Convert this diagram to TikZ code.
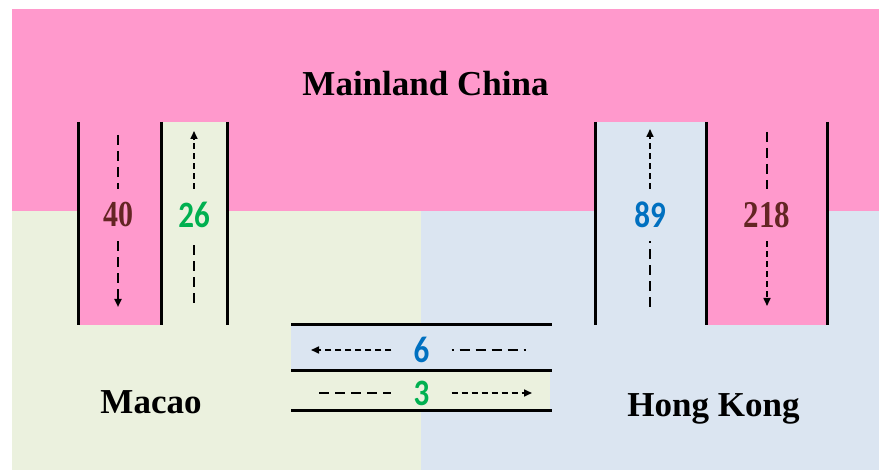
\documentclass[tikz,border=0pt]{standalone}
\usepackage{fontspec}
\usepackage{graphicx}
\setmainfont{Liberation Serif}
\newfontfamily\numsans{Carlito}
\newfontfamily\numserif{Liberation Serif}
\usetikzlibrary{arrows.meta}
\definecolor{pinkc}{RGB}{255,153,204}
\definecolor{beigec}{RGB}{235,241,222}
\definecolor{bluec}{RGB}{219,229,241}
\definecolor{maroonc}{RGB}{99,37,35}
\definecolor{greenc}{RGB}{0,176,80}
\definecolor{bluet}{RGB}{0,112,192}
\begin{document}
\begin{tikzpicture}[x=1pt,y=1pt,
  wall/.style={line width=3pt},
  coarse/.style={line width=2.6pt, dash pattern=on 10pt off 6pt},
  fine/.style={line width=1.6pt, dash pattern=on 6pt off 4pt},
  tip/.style={-{Triangle[length=8pt,width=7pt]}},
  region/.style={font=\bfseries\fontsize{35}{40}\selectfont, inner sep=0pt},
  vnum/.style={inner sep=0pt, minimum width=40pt, minimum height=52pt},
  hnum/.style={inner sep=0pt, minimum width=60pt, minimum height=30pt}
]
\useasboundingbox (0,0) rectangle (879,-470);
\fill[white] (0,0) rectangle (879,-470);
% regions
\fill[pinkc] (12,-9) rectangle (879,-211);
\fill[beigec] (12,-211) rectangle (421,-470);
\fill[bluec] (421,-211) rectangle (879,-470);
% channel fills
\fill[pinkc] (78,-122) rectangle (161,-325);
\fill[beigec] (161,-122) rectangle (227,-325);
\fill[bluec] (595,-122) rectangle (706,-325);
\fill[pinkc] (706,-122) rectangle (827,-325);
\fill[bluec] (291,-325) rectangle (552,-371);
\fill[beigec] (291,-371) rectangle (550,-411);
% walls
\draw[wall] (78,-122) -- (78,-325);
\draw[wall] (161,-122) -- (161,-325);
\draw[wall] (227,-122) -- (227,-325);
\draw[wall] (595,-122) -- (595,-325);
\draw[wall] (706,-122) -- (706,-325);
\draw[wall] (827,-122) -- (827,-325);
\draw[wall] (291,-325) -- (552,-325);
\draw[wall] (291,-371) -- (552,-371);
\draw[wall] (291,-411) -- (552,-411);
% region labels
\node[region, anchor=base] (china) at (425.5,-96) {Mainland China};
\node[region, anchor=base] (macao) at (151,-414) {Macao};
\node[region, anchor=base] (hk) at (713.5,-417) {Hong Kong};
% numbers
\node[vnum, text=maroonc] (n40) at (118,-215) {\scalebox{1}[1.22]{\numserif\bfseries\fontsize{30}{30}\selectfont 40}};
\node[vnum, text=greenc] (n26) at (194,-215) {\scalebox{1}[1.2]{\numsans\bfseries\fontsize{31}{31}\selectfont 26}};
\node[vnum, text=bluet] (n89) at (650,-215) {\scalebox{1}[1.2]{\numsans\bfseries\fontsize{31}{31}\selectfont 89}};
\node[vnum, text=maroonc] (n218) at (767,-215) {\scalebox{1}[1.22]{\numserif\bfseries\fontsize{31}{31}\selectfont 218}};
\node[hnum, text=bluet] (n6) at (421.5,-350) {\scalebox{1}[1.2]{\numsans\bfseries\fontsize{31}{31}\selectfont 6}};
\node[hnum, text=greenc] (n3) at (421.5,-393) {\scalebox{1}[1.2]{\numsans\bfseries\fontsize{31}{31}\selectfont 3}};
% arrow end points
\coordinate (a40) at (118,-135);
\coordinate (b40) at (118,-307);
\coordinate (a26) at (194,-131);
\coordinate (b26) at (194,-303);
\coordinate (a89) at (650,-129);
\coordinate (b89) at (650,-307);
\coordinate (a218) at (767,-132);
\coordinate (b218) at (767,-306);
\coordinate (l6) at (311,-350);
\coordinate (r6) at (527,-350);
\coordinate (l3) at (319,-393);
\coordinate (r3) at (532,-393);
% arrows
\draw[coarse] (a40) -- (n40);
\draw[coarse, tip] (n40) -- (b40);
\draw[fine, tip] (n26) -- (a26);
\draw[coarse] (b26) -- (n26);
\draw[fine, tip] (n89) -- (a89);
\draw[coarse] (b89) -- (n89);
\draw[coarse] (a218) -- (n218);
\draw[fine, tip] (n218) -- (b218);
\draw[fine, tip] (n6) -- (l6);
\draw[coarse, dash pattern=on 2pt off 6pt on 10pt off 6pt on 10pt off 6pt on 10pt off 6pt on 10pt off 6pt] (n6) -- (r6);
\draw[coarse] (l3) -- (n3);
\draw[fine, tip] (n3) -- (r3);
\end{tikzpicture}
\end{document}
